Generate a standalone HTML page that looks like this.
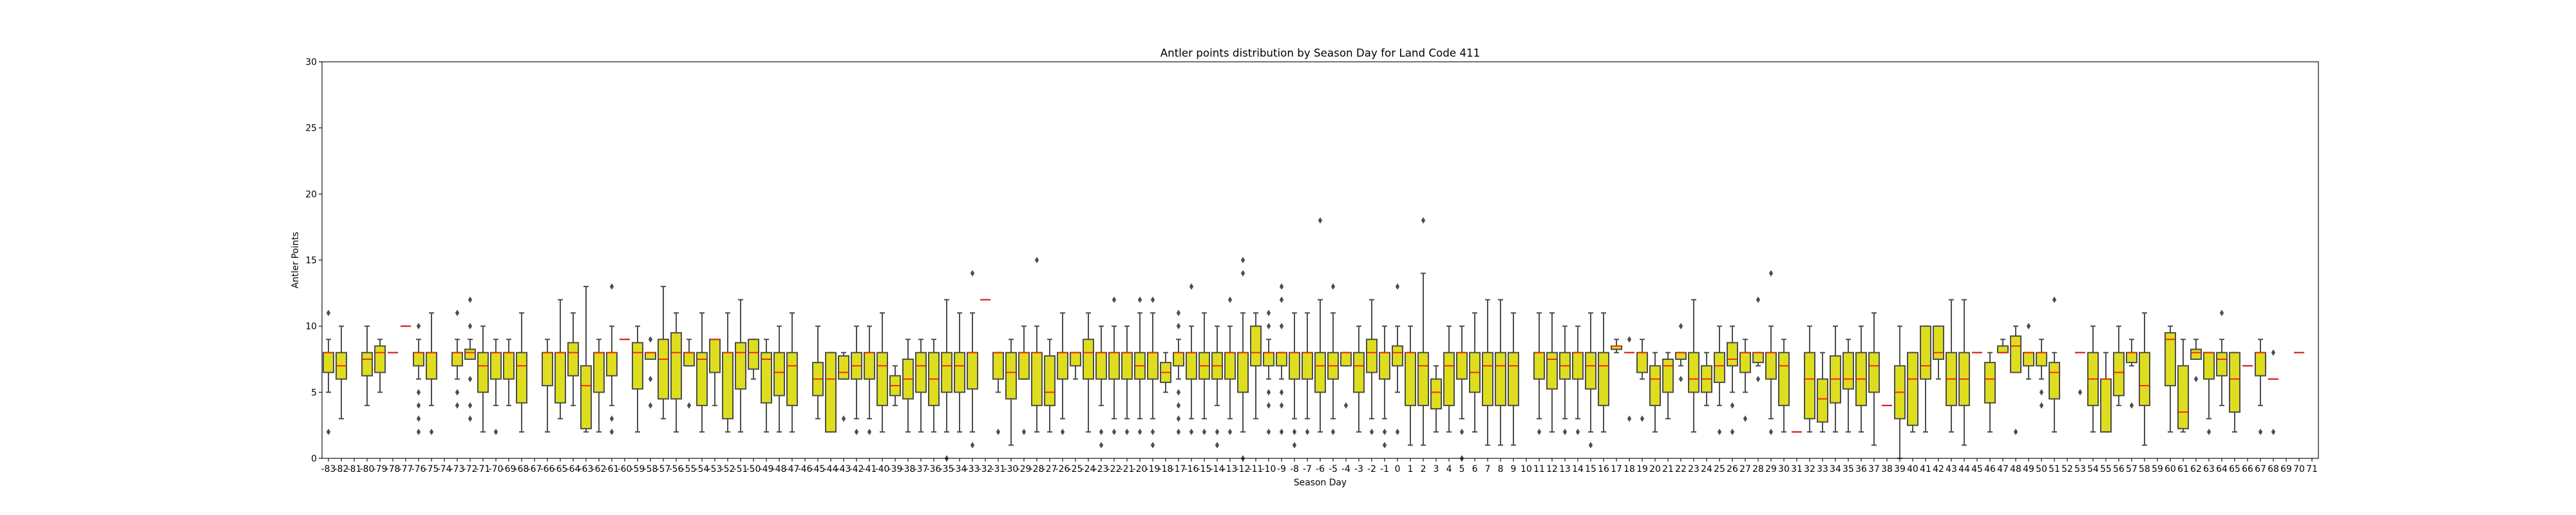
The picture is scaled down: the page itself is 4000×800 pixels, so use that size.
<!DOCTYPE html>
<html><head><meta charset="utf-8"><style>
html,body{margin:0;padding:0;background:#fff;}
svg{display:block;font-family:"DejaVu Sans","Liberation Sans",sans-serif;}
</style></head><body>
<svg id="chart" width="4000" height="800" viewBox="0 0 4000 800" xmlns="http://www.w3.org/2000/svg">
<rect x="0" y="0" width="4000" height="800" fill="#fff"/>
<text x="2050" y="88" text-anchor="middle" font-size="16.7" fill="#000">Antler points distribution by Season Day for Land Code 411</text>
<text x="2050" y="754" text-anchor="middle" font-size="13.9" fill="#000">Season Day</text>
<text transform="translate(463,404) rotate(-90)" text-anchor="middle" font-size="13.9" fill="#000">Antler Points</text>
<g id="marks"></g>
<rect x="500" y="96" width="3100" height="616" fill="none" stroke="#000" stroke-width="1.1"/>
</svg>
<script>
const yTicks = [0,5,10,15,20,25,30];
const lo = [5,3,null,4,5,8,10,6,4,null,
 6,7.5,2,4,4,2,null,2,3,4,
 2,2,4,9,2,7.5,3,2,7,2,
 4,2,2,6,2,2,2,null,3,2,
 6,3,3,2,4,2,2,2,2,2,
 2,12,5,1,6,2,2,3,6,2,
 4,3,3,3,3,5,6,3,3,4,
 3,2,3,6,6,3,3,2,3,7,
 2,3,3,5,1,1,2,2,3,2,
 1,1,1,null,3,2,3,3,2,2,
 8,8,6,2,3,7,2,4,4,5,
 5,7,3,2,2,2,2,2,2,2,
 1,4,0,2,2,6,2,1,8,2,
 8,6.5,6,6,2,null,8,2,2,4,
 7,1,null,2,2,7.5,3,4,2,7,
 4,6,null,8,null];
const q1 = [6.5,6,null,6.25,6.5,8,10,7,6,null,
 7,7.5,5,6,6,4.2,null,5.5,4.2,6.25,
 2.25,5,6.25,9,5.25,7.5,4.5,4.5,7,4,
 6.5,3,5.25,6.75,4.2,4.75,4,null,4.75,2,
 6,6,6,4,4.75,4.5,5,4,5,5,
 5.25,12,6,4.5,6,4,4,6,7,6,
 6,6,6,6,6,5.75,7,6,6,6,
 6,5,7,7,7,6,6,5,6,7,
 5,6.5,6,7,4,4,3.75,4,6,5,
 4,4,4,null,6,5.25,6,6,5.25,4,
 8.25,8,6.5,4,5,7.5,5,5,5.75,7,
 6.5,7.25,6,4,2,3,2.75,4.2,5.25,4,
 5,4,3,2.5,6,7.5,4,4,8,4.2,
 8,6.5,7,7,4.5,null,8,4,2,4.75,
 7.25,4,null,5.5,2.25,7.5,6,6.25,3.5,7,
 6.25,6,null,8,null];
const med = [8,7,null,7.5,8,8,10,8,8,null,
 8,8,7,8,8,7,null,8,8,8,
 5.5,8,8,9,8,8,7.5,8,8,7.5,
 9,8,8,8,7.5,6.5,7,null,6,6,
 6.5,7,8,7,5.5,6,7,6,7,7,
 8,12,8,6.5,8,8,5,8,8,8,
 8,8,8,7,8,6.5,8,8,7,7,
 8,8,8,8,8,8,8,7,7,8,
 7,8,8,8,8,7,5,7,8,6.5,
 7,7,7,null,8,7.5,7,8,7,7,
 8.5,8,8,6,7,8,6,6,7,7.5,
 8,8,8,7,2,6,4.5,6,6,6,
 7,4,5,6,7,8,6,6,8,6,
 8,8.5,8,8,6.5,null,8,6,6,6.5,
 8,5.5,null,9,3.5,8,8,7.5,6,7,
 8,6,null,8,null];
const q3 = [8,8,null,8,8.5,8,10,8,8,null,
 8,8.25,8,8,8,8,null,8,8,8.75,
 7,8,8,9,8.75,8,9,9.5,8,8,
 9,8,8.75,9,8,8,8,null,7.25,8,
 7.75,8,8,8,6.25,7.5,8,8,8,8,
 8,12,8,8,8,8,7.75,8,8,9,
 8,8,8,8,8,7.25,8,8,8,8,
 8,8,10,8,8,8,8,8,8,8,
 8,9,8,8.5,8,8,6,8,8,8,
 8,8,8,null,8,8,8,8,8,8,
 8.5,8,8,7,7.5,8,8,7,8,8.75,
 8,8,8,8,2,8,6,7.75,8,8,
 8,4,7,8,10,10,8,8,8,7.25,
 8.5,9.25,8,8,7.25,null,8,8,6,8,
 8,8,null,9.5,7,8.25,8,8,8,7,
 8,6,null,8,null];
const hi = [9,10,null,10,9,8,10,9,11,null,
 9,9,10,9,9,11,null,9,12,11,
 13,9,10,9,10,8,13,11,9,11,
 9,11,12,9,9,10,11,null,10,8,
 8,10,10,11,7,9,9,9,12,11,
 11,12,8,9,10,10,9,11,8,11,
 10,10,10,11,11,8,9,10,11,10,
 10,11,11,9,8,11,11,12,11,8,
 10,12,10,10,10,14,7,10,10,11,
 12,12,11,null,11,11,10,10,11,11,
 9,8,9,8,8,8,12,8,10,10,
 9,8,10,9,2,10,8,10,9,10,
 11,4,10,8,10,10,12,12,8,8,
 9,10,8,9,8,null,8,10,8,10,
 9,11,null,10,9,9,8,9,8,7,
 9,6,null,8,null];
const flierDay = [-83,-83,-76,-76,-76,-76,-76,-75,-73,-73,-73,-72,-72,-72,-72,-72,-70,-61,-61,-61,-58,-58,-58,-55,
 -43,-42,-41,-35,-33,-33,-31,-29,-28,-26,-23,-23,-22,-22,-21,-20,-20,-19,-19,-19,
 -17,-17,-17,-17,-17,-17,-16,-16,-15,-14,-14,-13,-13,-12,-12,-12,-10,-10,-10,-10,-10,
 -9,-9,-9,-9,-9,-9,-8,-8,-7,-6,-5,-5,-4,-2,-1,-1,0,0,2,5,5,11,13,14,15,18,18,19,22,22,
 25,26,26,27,28,28,29,29,48,49,50,50,51,53,57,62,63,64,67,68,68];
const flierValue = [11,2,10,5,4,3,2,2,11,5,4,12,10,6,4,3,2,13,3,2,9,6,4,4,
 3,2,2,0,14,1,2,2,15,2,2,1,12,2,2,12,2,12,2,1,
 11,10,5,4,3,2,13,2,2,2,1,12,2,15,14,0,11,10,5,4,2,
 13,12,10,5,4,2,2,1,2,18,13,2,4,2,2,1,13,2,18,2,0,2,2,2,1,9,3,3,10,6,
 2,4,2,3,12,6,14,2,2,10,5,4,12,5,4,6,2,11,2,8,2];

const NS="http://www.w3.org/2000/svg";
const firstDay=-83, nCat=155;
const X0=500, PW=3100, Y0=712, PH=616, YMAX=30;
const band=PW/nCat;
function xPos(i){return X0+(i+0.5)*band;}
function yPos(v){return Y0-v/YMAX*PH;}
const g=document.getElementById('marks');
const svg=document.getElementById('chart');
function mk(tag,attrs,parent){const e=document.createElementNS(NS,tag);for(const k in attrs)e.setAttribute(k,attrs[k]);(parent||g).appendChild(e);return e;}
const EDGE="#4d4d4d", FILL="#dede1f", MED="#ff2a0a";

// y ticks
yTicks.forEach(t=>{
  const y=yPos(t);
  const tk=mk('line',{x1:X0-5,x2:X0,y1:y,y2:y,stroke:'#000','stroke-width':1.1},svg);
  
  
  const tx=mk('text',{x:X0-8,y:y+5,'text-anchor':'end','font-size':13.9,fill:'#000'},svg);
  tx.textContent=String(t);
  
  
});
// x ticks
for(let i=0;i<nCat;i++){
  const x=xPos(i);
  const tk=mk('line',{x1:x,x2:x,y1:Y0,y2:Y0+5,stroke:'#000','stroke-width':1.1},svg);
  
  
  const tx=mk('text',{x:x,y:Y0+21,'text-anchor':'middle','font-size':13.9,fill:'#000'},svg);
  tx.textContent=String(firstDay+i);
  
  
}
// boxes
const hw=band*0.4, cw=band*0.2;
for(let i=0;i<nCat;i++){
  if(med[i]===null) continue;
  const x=xPos(i);
  const grp=mk('g',{});
  
  
  const single = lo[i]===hi[i] && q1[i]===q3[i];
  if(single){
    const m=mk('line',{x1:x-hw,x2:x+hw,y1:yPos(med[i]),y2:yPos(med[i]),stroke:'#d91e1e','stroke-width':2.2},grp);
    
    
    continue;
  }
  if(hi[i]>q3[i]){
    const w=mk('line',{x1:x,x2:x,y1:yPos(q3[i]),y2:yPos(hi[i]),stroke:EDGE,'stroke-width':2},grp);
    
    
  }
  const c1=mk('line',{x1:x-cw,x2:x+cw,y1:yPos(hi[i]),y2:yPos(hi[i]),stroke:EDGE,'stroke-width':2},grp);
  
  
  if(lo[i]<q1[i]){
    const w=mk('line',{x1:x,x2:x,y1:yPos(q1[i]),y2:yPos(lo[i]),stroke:EDGE,'stroke-width':2},grp);
    
    
  }
  const c2=mk('line',{x1:x-cw,x2:x+cw,y1:yPos(lo[i]),y2:yPos(lo[i]),stroke:EDGE,'stroke-width':2},grp);
  
  
  const b=mk('rect',{x:x-hw,y:yPos(q3[i]),width:2*hw,height:Math.max(0.5,yPos(q1[i])-yPos(q3[i])),fill:FILL,stroke:EDGE,'stroke-width':2},grp);
  
  
  const m=mk('line',{x1:x-hw+1,x2:x+hw-1,y1:yPos(med[i]),y2:yPos(med[i]),stroke:MED,'stroke-width':2},grp);
  
  
}
// fliers
for(let k=0;k<flierDay.length;k++){
  const x=xPos(flierDay[k]-firstDay), y=yPos(flierValue[k]);
  const p=mk('path',{d:`M${x},${y-5} L${x+3.2},${y} L${x},${y+5} L${x-3.2},${y} Z`,fill:EDGE});
  
  
}
</script>
</body></html>
